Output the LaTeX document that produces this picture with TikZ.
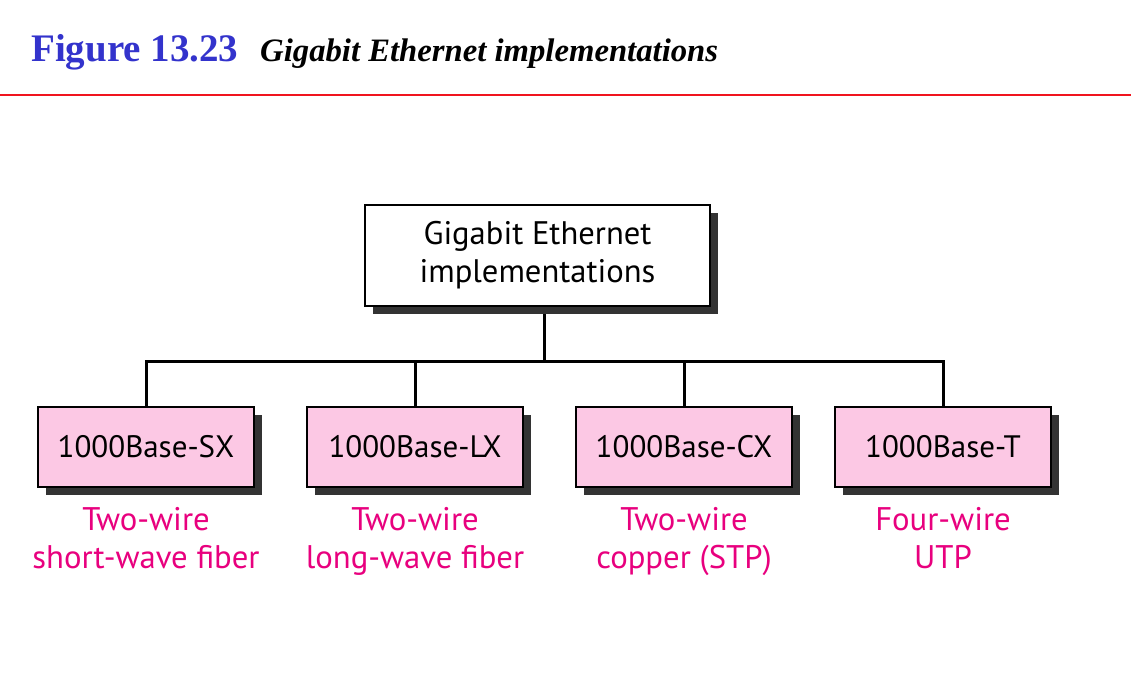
\documentclass[tikz,border=0pt]{standalone}
\usepackage{fontspec}
\setmainfont{Liberation Serif}
\newfontfamily\boxfont{PT Sans}
\usepackage{xcolor}
\usetikzlibrary{positioning}
\usetikzlibrary{shadows}
\usetikzlibrary{backgrounds}
\definecolor{figblue}{RGB}{51,51,204}
\definecolor{rulered}{RGB}{240,20,30}
\definecolor{leafpink}{RGB}{252,200,228}
\definecolor{lblpink}{RGB}{232,0,126}
\definecolor{shadowgray}{RGB}{51,51,51}
\tikzset{
  boxshadow/.style={drop shadow={shadow xshift=8pt,shadow yshift=-8pt,fill=shadowgray,opacity=1}},
  topbox/.style={draw,line width=2.5pt,fill=white,boxshadow,minimum width=345pt,minimum height=101pt,
    align=center,font=\boxfont\fontsize{32.6}{38}\selectfont},
  leafbox/.style={draw,line width=2.5pt,fill=leafpink,boxshadow,minimum width=216pt,minimum height=80pt,
    font=\boxfont\fontsize{31}{38}\selectfont},
  lbl/.style={text=lblpink,align=center,inner sep=0pt,font=\boxfont\fontsize{32.7}{38}\selectfont},
  tree/.style={line width=3pt}
}
\begin{document}
\begin{tikzpicture}[x=1pt,y=-1pt]
		\useasboundingbox (0,0) rectangle (1146,679);
		\node[anchor=base west,inner sep=0pt,text=figblue,font=\bfseries\fontsize{39}{39}\selectfont] (fig) at (31,62) {Figure 13.23};
		\node[anchor=base west,inner sep=0pt,font=\bfseries\itshape\fontsize{32.7}{32.7}\selectfont] (cap) at (260,62) {Gigabit Ethernet implementations};
		\draw[rulered,line width=2pt] (0,95) -- (1131,95);
%
		\node[topbox] (gig) at (537.5,255.5) {Gigabit Ethernet\\implementations};
		\node[leafbox] (sx) at (146,447) {1000Base-SX};
		\node[leafbox] (lx) at (415,447) {1000Base-LX};
		\node[leafbox] (cx) at (684,447) {1000Base-CX};
		\node[leafbox] (t) at (943,447) {1000Base-T};
%
		\node[lbl,below=19pt of sx] (sxl) {Two-wire\\short-wave fiber};
		\node[lbl,below=19pt of lx] (lxl) {Two-wire\\long-wave fiber};
		\node[lbl,below=19pt of cx] (cxl) {Two-wire\\copper (STP)};
		\node[lbl,below=19pt of t] (tl) {Four-wire\\UTP};
%
		\coordinate (joint) at (544,361);
		\begin{pgfonlayer}{background}
		\draw[tree] (joint |- gig.south) -- (joint);
		\draw[tree] (sx.north) |- (joint) -| (t.north);
		\draw[tree] (lx.north) -- (lx.north |- joint);
		\draw[tree] (cx.north) -- (cx.north |- joint);
		\end{pgfonlayer}
\end{tikzpicture}
\end{document}
